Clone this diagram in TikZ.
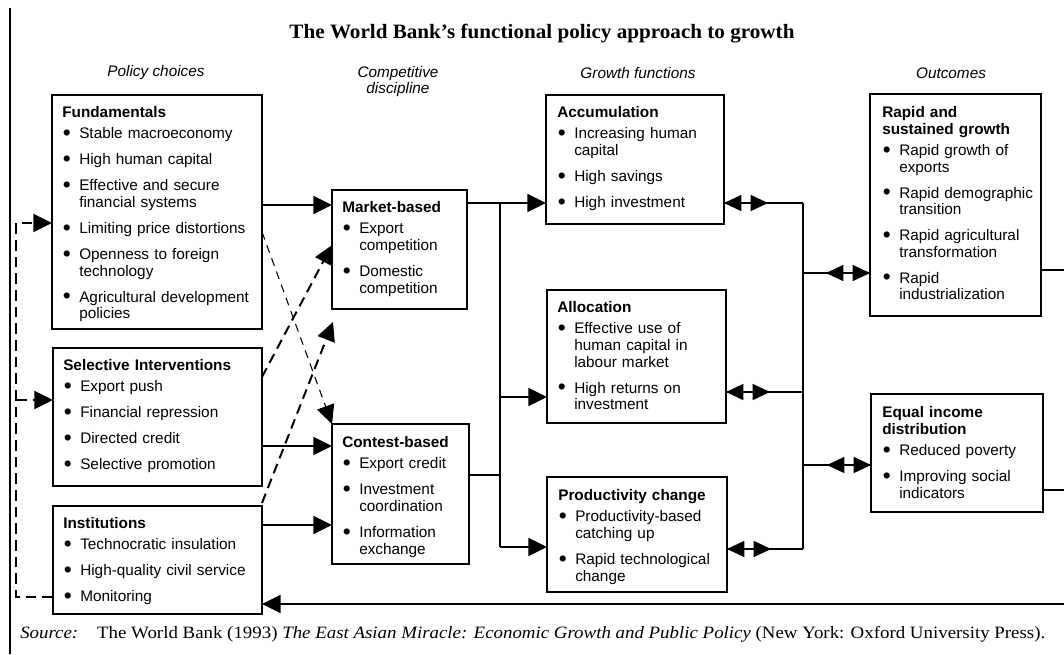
\documentclass[tikz,border=0pt]{standalone}
\usepackage{fontspec}
\usepackage{graphicx}
\setmainfont{Liberation Serif}
\setsansfont{Liberation Sans}
\usetikzlibrary{arrows.meta}
\newdimen\px \px=0.75pt
\newcommand\mkbox[5]{\node[box, minimum width={(#4-#2)*0.75pt}, minimum height={(#5-#3)*0.75pt}] (#1) at (#2,#3) {};}
\newcommand\hd[1]{\noindent{\bfseries #1}\par\vspace{3.4pt}}
\newcommand\bigbul{\raisebox{-1.3pt}{\fontsize{17}{12}\selectfont\textbullet}}
\newcommand\itm[1]{\hangindent=17\px\hangafter=1\noindent\makebox[17\px][l]{\hspace{0.5\px}\bigbul}#1\par\vspace{7.1pt}}
\tikzset{
 box/.style={draw, line width=1.2pt, inner sep=0pt, outer sep=0pt, anchor=north west},
 txt/.style={anchor=north west, inner sep=0pt, text width=190pt, align=left, font=\sffamily\fontsize{11.5}{12.4}\selectfont},
 colhead/.style={font=\sffamily\itshape\fontsize{11.5}{12.6}\selectfont, align=center, inner sep=0pt},
 tip/.style={-{Triangle[length=14pt,width=13.5pt]}},
 conn/.style={line width=1.5pt, tip},
 plain/.style={line width=1.1pt},
 dbl/.style={line width=1.1pt, {Triangle[length=13pt,width=12pt]}-{Triangle[length=13pt,width=12pt]}},
 thindash/.style={line width=0.8pt, dash pattern=on 6pt off 4.5pt, tip},
 thickdash/.style={line width=1.5pt, dash pattern=on 7.5pt off 4.5pt, tip},
 fb/.style={line width=1.5pt, dash pattern=on 8pt off 4.5pt},
}
\begin{document}
\begin{tikzpicture}[x=0.75pt,y=-0.75pt]
\useasboundingbox (0,0) rectangle (1064,654);
\fill[white] (0,0) rectangle (1064,654);

% page border
\draw[line width=1.2pt] (10,8) -- (10,654);

% title and column headings
\node[inner sep=0pt, font=\bfseries\fontsize{15.3}{17}\selectfont] (title) at (542,34) {\resizebox{505\px}{\height}{The World Bank’s functional policy approach to growth}};
\node[colhead] (ch1) at (156,73) {Policy choices};
\node[colhead] (ch2) at (398,81.5) {Competitive\\discipline};
\node[colhead] (ch3) at (638,73) {Growth functions};
\node[colhead] (ch4) at (951,73) {Outcomes};

% boxes
\mkbox{fund}{52}{95}{262}{329}
\mkbox{sel}{53}{348}{262}{486}
\mkbox{inst}{53}{506}{262}{614}
\mkbox{mkt}{332}{190}{467}{309}
\mkbox{cont}{332}{424}{469}{564}
\mkbox{acc}{546}{95}{724}{224}
\mkbox{alloc}{547}{290}{726}{423}
\mkbox{prod}{547}{477}{727}{592}
\mkbox{rapid}{870}{94}{1041}{316}
\mkbox{equal}{871}{394}{1043}{512}

% box texts
\node[txt] (fundT) at (62,106.5) {\hd{Fundamentals}\itm{Stable macroeconomy}\itm{High human capital}\itm{Effective and secure\newline financial systems}\itm{Limiting price distortions}\itm{Openness to foreign\newline technology}\itm{Agricultural development\newline policies}};
\node[txt] (selT) at (63,359.5) {\hd{Selective Interventions}\itm{Export push}\itm{Financial repression}\itm{Directed credit}\itm{Selective promotion}};
\node[txt] (instT) at (63,517.5) {\hd{Institutions}\itm{Technocratic insulation}\itm{High-quality civil service}\itm{Monitoring}};
\node[txt] (mktT) at (342,201.5) {\hd{Market-based}\itm{Export\newline competition}\itm{Domestic\newline competition}};
\node[txt] (contT) at (342,436.5) {\hd{Contest-based}\itm{Export credit}\itm{Investment\newline coordination}\itm{Information\newline exchange}};
\node[txt] (accT) at (557,106.5) {\hd{Accumulation}\itm{Increasing human\newline capital}\itm{High savings}\itm{High investment}};
\node[txt] (allocT) at (557,301.5) {\hd{Allocation}\itm{Effective use of\newline human capital in\newline labour market}\itm{High returns on\newline investment}};
\node[txt] (prodT) at (558,489.5) {\hd{Productivity change}\itm{Productivity-based\newline catching up}\itm{Rapid technological\newline change}};
\node[txt] (rapidT) at (882,106.5) {\noindent{\bfseries Rapid and\newline sustained growth}\par\vspace{3.4pt}\itm{Rapid growth of\newline exports}\itm{Rapid demographic\newline transition}\itm{Rapid agricultural\newline transformation}\itm{Rapid\newline industrialization}};
\node[txt] (equalT) at (882,406.5) {\noindent{\bfseries Equal income\newline distribution}\par\vspace{3.4pt}\itm{Reduced poverty}\itm{Improving social\newline indicators}};

% policy choices -> competitive discipline
\draw[conn] (fund.east |- 0,205) -- (mkt.west |- 0,205);
\draw[conn] (sel.east |- 0,446) -- (cont.west |- 0,446);
\draw[conn] (inst.east |- 0,525) -- (cont.west |- 0,525);
\draw[thindash] (fund.east |- 0,232) -- (cont.north west);
\draw[thickdash] (sel.east |- 0,377) -- (mkt.west |- 0,245);
\coordinate (mktB) at (333,322);
\draw[thickdash] (inst.east |- 0,503) -- (mktB);

% competitive discipline -> growth functions
\coordinate (jA) at (500,203);
\coordinate (jB) at (500,547);
\draw[plain] (jA) -- (jB);
\draw[conn] (mkt.east |- jA) -- (acc.west |- jA);
\draw[plain] (cont.east |- 0,475) -- (jA |- 0,475);
\draw[conn] (jA |- 0,397) -- (alloc.west |- 0,397);
\draw[conn] (jB) -- (prod.west |- jB);

% growth functions <-> outcomes
\coordinate (kA) at (803,203);
\coordinate (kB) at (803,549);
\draw[plain] (kA) -- (kB);
\draw[plain] (acc.east |- kA) -- (kA);
\draw[dbl] (acc.east |- kA) -- ++(44,0);
\draw[plain] (alloc.east |- 0,392) -- (kA |- 0,392);
\draw[dbl] (alloc.east |- 0,392) -- ++(44,0);
\draw[plain] (prod.east |- kB) -- (kB);
\draw[dbl] (prod.east |- kB) -- ++(44,0);
\draw[plain] (kA |- 0,273) -- (rapid.west |- 0,273);
\draw[dbl] (rapid.west |- 0,273) -- ++(-44,0);
\draw[plain] (kA |- 0,465) -- (equal.west |- 0,465);
\draw[dbl] (equal.west |- 0,465) -- ++(-44,0);

% outcomes to the right edge and feedback
\coordinate (rA) at (1064,270);
\coordinate (rB) at (1064,490);
\coordinate (rC) at (1064,604);
\draw[plain] (rapid.east |- rA) -- (rA);
\draw[plain] (equal.east |- rB) -- (rB);
\draw[conn] (rC) -- (inst.east |- rC);

% left dashed feedback
\coordinate (fbT) at (16,223);
\coordinate (fbS) at (16,400);
\coordinate (fbB) at (16,597);
\draw[fb, tip] (inst.west |- fbB) -- (fbB) -- (fbT) -- (fund.west |- fbT);
\draw[fb, tip] (fbS) -- (sel.west |- fbS);

% source
\node[anchor=west, inner sep=0pt, font=\fontsize{13}{15}\selectfont] (src) at (20,634) {\resizebox{1025\px}{\height}{\textit{Source:}\hspace{1em}The World Bank (1993) \textit{The East Asian Miracle: Economic Growth and Public Policy} (New York: Oxford University Press).}};
\end{tikzpicture}
\end{document}
